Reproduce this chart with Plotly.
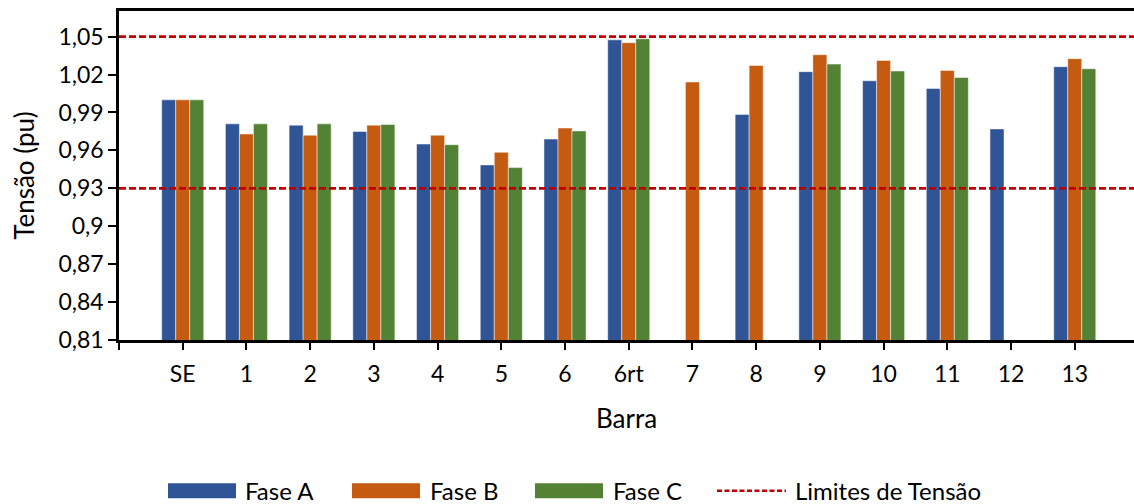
import plotly.graph_objects as go

# Bus voltages per phase (pu)
barras = ["SE", "1", "2", "3", "4", "5", "6", "6rt", "7", "8", "9", "10", "11", "12", "13"]
fase_a = [1.000, 0.981, 0.980, 0.975, 0.965, 0.9485, 0.969, 1.0475, 0, 0.9885, 1.0223, 1.0151, 1.009, 0.977, 1.0262]
fase_b = [1.000, 0.973, 0.972, 0.980, 0.972, 0.9585, 0.9777, 1.0452, 1.0141, 1.0272, 1.0357, 1.0312, 1.0233, 0, 1.0326]
fase_c = [1.000, 0.981, 0.981, 0.9805, 0.9645, 0.9464, 0.9754, 1.0483, 0, 0, 1.0283, 1.0228, 1.0177, 0, 1.0246]

# Voltage limits
limite_inf = 0.93
limite_sup = 1.05

# Y axis ticks
y_ticks = [0.81, 0.84, 0.87, 0.90, 0.93, 0.96, 0.99, 1.02, 1.05]
y_tick_labels = ["0,81", "0,84", "0,87", "0,9", "0,93", "0,96", "0,99", "1,02", "1,05"]

FONT = "Lato"
W, H = 1134, 504
L, R, T, B = 119, 0, 11, 163.5

cores = {"Fase A": "#2F5597", "Fase B": "#C55A11", "Fase C": "#548235"}
limite_cor = "#C00000"

x_pos = list(range(len(barras)))

fig = go.Figure()
for nome, vals in [("Fase A", fase_a), ("Fase B", fase_b), ("Fase C", fase_c)]:
    fig.add_trace(go.Bar(
        x=x_pos, y=vals, name=nome,
        marker=dict(color=cores[nome], line=dict(color="rgba(255,255,255,0.6)", width=0.8)),
        showlegend=False,
    ))

for lim in (limite_inf, limite_sup):
    fig.add_hline(y=lim, line=dict(color=limite_cor, width=2.8, dash="7px,3px"), layer="above")

# Pixel -> paper coordinate helpers for the legend row
pw = W - L - R
ph = H - T - B
def px(xp):
    return (xp - L) / pw
def py(yp):
    return (H - B - yp) / ph

leg_y = 491.5
items = [
    ("Fase A", 168, 236, 243, "bar"),
    ("Fase B", 352, 420, 428, "bar"),
    ("Fase C", 535, 603, 611, "bar"),
    ("Limites de Tensão", 717, 786, 793, "line"),
]
for nome, x0, x1, xt, kind in items:
    if kind == "bar":
        fig.add_shape(type="rect", xref="paper", yref="paper",
                      x0=px(x0), x1=px(x1), y0=py(leg_y + 7.5), y1=py(leg_y - 7.5),
                      fillcolor=cores[nome], line=dict(width=0))
    else:
        fig.add_shape(type="line", xref="paper", yref="paper",
                      x0=px(x0), x1=px(x1), y0=py(leg_y), y1=py(leg_y),
                      line=dict(color=limite_cor, width=2.5, dash="5px,2.5px"))
    fig.add_annotation(xref="paper", yref="paper", x=px(xt), y=py(leg_y),
                       text=nome, showarrow=False, xanchor="left", yanchor="middle",
                       font=dict(family=FONT, size=24, color="#000000"))

fig.update_layout(
    width=W, height=H,
    margin=dict(l=L, r=R, t=T, b=B, pad=0),
    plot_bgcolor="white", paper_bgcolor="white",
    barmode="group", bargap=0.34, bargroupgap=0,
    font=dict(family=FONT, size=24, color="#000000"),
    showlegend=False,
)

fig.update_xaxes(
    range=[-1, 14.93],
    tickmode="array",
    tickvals=[-1] + x_pos,
    ticktext=[""] + barras,
    ticks="outside", ticklen=7, tickwidth=2, tickcolor="black",
    ticklabelstandoff=5,
    showline=True, linecolor="black", linewidth=2.5, mirror=True,
    showgrid=False, zeroline=False,
    tickfont=dict(family=FONT, size=23),
    title=dict(text="Barra", font=dict(family=FONT, size=26), standoff=24),
)
fig.update_yaxes(
    range=[0.81, 1.0703],
    tickmode="array", tickvals=y_ticks, ticktext=y_tick_labels,
    ticks="outside", ticklen=8, tickwidth=2, tickcolor="black",
    showline=True, linecolor="black", linewidth=2.5,
    showgrid=False, zeroline=False,
    tickfont=dict(family=FONT, size=23),
    title=dict(text="Tensão (pu)", font=dict(family=FONT, size=26), standoff=17),
)

fig.write_html("out.html")
